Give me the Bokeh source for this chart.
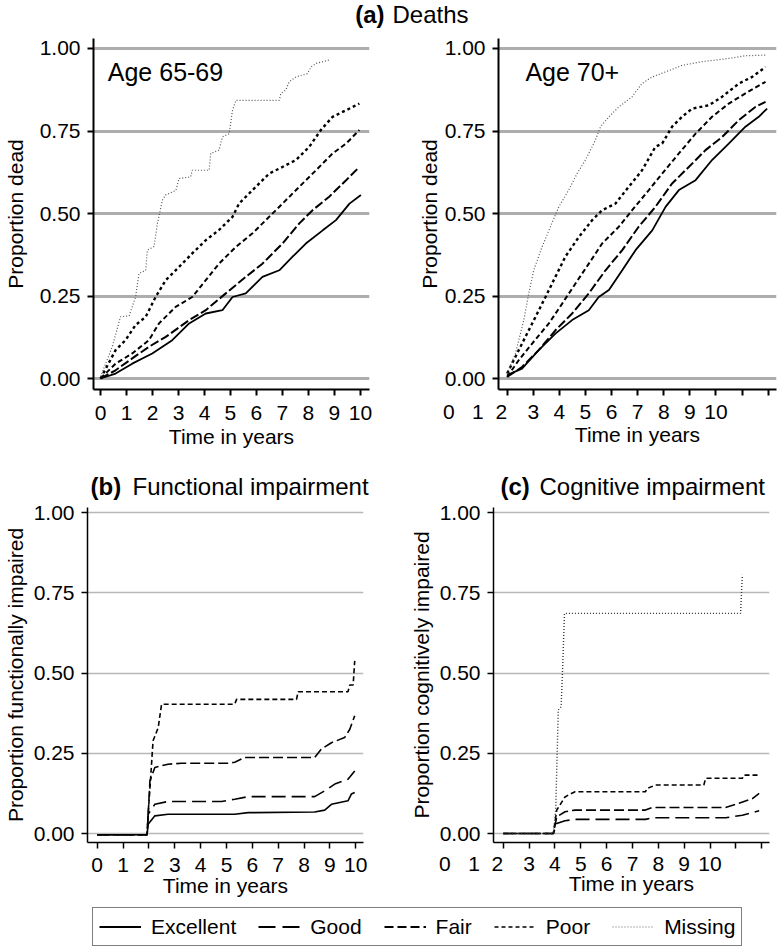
from bokeh.plotting import figure
from bokeh.layouts import column, row
from bokeh.models import FixedTicker, Legend, LegendItem, Range1d
from bokeh.core.properties import value
from bokeh.embed import file_html
from bokeh.resources import INLINE

FONT = "Liberation Sans"

# ---------------- data ----------------
categories = ["Excellent", "Good", "Fair", "Poor", "Missing"]
x_ticks = [0, 1, 2, 3, 4, 5, 6, 7, 8, 9, 10]
x_tick_labels = ["0", "1", "2", "3", "4", "5", "6", "7", "8", "9", "10"]
y_ticks = [0.0, 0.25, 0.5, 0.75, 1.0]
y_tick_labels = ["0.00", "0.25", "0.50", "0.75", "1.00"]

# (a) Deaths, Age 65-69
a1_excellent_t = [0, 0.58, 1.22, 1.99, 2.76, 3.41, 4.05, 4.69, 5.08, 5.59, 6.23, 6.88, 7.39, 7.9, 8.55, 9.06, 9.58, 10.02]
a1_excellent_v = [0, 0.015, 0.045, 0.076, 0.116, 0.167, 0.197, 0.207, 0.247, 0.258, 0.308, 0.328, 0.369, 0.409, 0.449, 0.48, 0.53, 0.556]
a1_good_t = [0, 0.58, 1.22, 1.86, 2.51, 3.41, 4.05, 4.82, 5.59, 6.23, 7.0, 7.65, 8.16, 8.8, 9.45, 9.96]
a1_good_v = [0, 0.025, 0.061, 0.096, 0.126, 0.177, 0.207, 0.258, 0.308, 0.348, 0.409, 0.47, 0.51, 0.551, 0.601, 0.641]
a1_fair_t = [0, 0.58, 1.22, 1.86, 2.25, 2.89, 3.53, 4.05, 4.56, 5.21, 5.85, 6.49, 7.13, 7.65, 8.29, 8.93, 9.45, 9.96]
a1_fair_v = [0, 0.045, 0.076, 0.116, 0.167, 0.217, 0.247, 0.298, 0.348, 0.399, 0.44, 0.49, 0.54, 0.581, 0.631, 0.682, 0.712, 0.753]
a1_poor_t = [0, 0.58, 0.96, 1.35, 1.74, 2.12, 2.51, 3.02, 3.53, 4.05, 4.56, 5.08, 5.33, 5.85, 6.49, 7.0, 7.52, 8.03, 8.48, 8.93, 9.45, 9.96]
a1_poor_v = [0, 0.086, 0.116, 0.162, 0.187, 0.247, 0.298, 0.338, 0.379, 0.419, 0.45, 0.49, 0.53, 0.571, 0.621, 0.641, 0.662, 0.702, 0.753, 0.793, 0.813, 0.833]
a1_missing_t = [0, 0.45, 0.77, 1.1, 1.35, 1.48, 1.74, 1.8, 2.06, 2.19, 2.38, 2.5, 2.9, 3.02, 3.47, 3.53, 4.18, 4.24, 4.56, 4.69, 4.95, 5.08, 5.21, 6.88, 6.94, 7.13, 7.26, 7.52, 7.97, 8.1, 8.29, 8.8]
a1_missing_v = [0.005, 0.096, 0.187, 0.19, 0.247, 0.318, 0.328, 0.389, 0.40, 0.47, 0.54, 0.556, 0.57, 0.606, 0.611, 0.631, 0.631, 0.682, 0.692, 0.732, 0.742, 0.813, 0.843, 0.843, 0.864, 0.874, 0.899, 0.914, 0.924, 0.944, 0.955, 0.965]

# (a) Deaths, Age 70+
a2_excellent_t = [0, 0.57, 1.21, 1.85, 2.49, 3.13, 3.51, 3.9, 4.41, 4.92, 5.56, 6.07, 6.58, 7.22, 7.85, 8.49, 9.13, 9.64, 9.96]
a2_excellent_v = [0.01, 0.03, 0.086, 0.136, 0.177, 0.207, 0.247, 0.268, 0.328, 0.389, 0.449, 0.52, 0.571, 0.601, 0.662, 0.712, 0.763, 0.793, 0.818]
a2_good_t = [0, 0.57, 1.21, 1.85, 2.49, 3.13, 3.77, 4.41, 5.04, 5.68, 6.32, 6.96, 7.6, 8.24, 8.88, 9.51, 9.9]
a2_good_v = [0.005, 0.035, 0.086, 0.146, 0.197, 0.258, 0.328, 0.389, 0.46, 0.52, 0.591, 0.641, 0.692, 0.732, 0.783, 0.823, 0.838]
a2_fair_t = [0, 0.45, 0.96, 1.6, 2.11, 2.62, 3.13, 3.64, 4.28, 4.79, 5.43, 5.94, 6.58, 7.22, 7.85, 8.49, 9.13, 9.9]
a2_fair_v = [0.005, 0.056, 0.106, 0.167, 0.227, 0.288, 0.348, 0.409, 0.46, 0.51, 0.571, 0.621, 0.682, 0.742, 0.793, 0.833, 0.864, 0.899]
a2_poor_t = [0, 0.32, 0.7, 1.09, 1.47, 1.85, 2.23, 2.75, 3.26, 3.64, 4.15, 4.66, 5.17, 5.68, 5.94, 6.32, 6.7, 7.09, 7.73, 8.24, 8.88, 9.39, 9.9]
a2_poor_v = [0.015, 0.066, 0.126, 0.187, 0.247, 0.308, 0.369, 0.429, 0.48, 0.51, 0.53, 0.581, 0.631, 0.702, 0.712, 0.763, 0.793, 0.818, 0.828, 0.854, 0.894, 0.914, 0.944]
a2_missing_t = [0, 0.32, 0.64, 0.83, 1.02, 1.34, 1.66, 1.98, 2.36, 2.68, 3.0, 3.38, 3.58, 3.9, 4.28, 4.79, 5.17, 5.56, 6.07, 6.7, 7.47, 8.49, 9.13, 9.9]
a2_missing_v = [0.015, 0.076, 0.177, 0.258, 0.328, 0.399, 0.46, 0.52, 0.571, 0.621, 0.662, 0.722, 0.763, 0.793, 0.823, 0.854, 0.894, 0.914, 0.929, 0.949, 0.96, 0.97, 0.978, 0.98]

# (b) Functional impairment
b_excellent_t = [0, 1.93, 1.97, 2.23, 2.74, 5.32, 5.84, 8.41, 8.8, 9.06, 9.7, 9.83, 9.96]
b_excellent_v = [-0.004, -0.004, 0.029, 0.055, 0.06, 0.06, 0.065, 0.067, 0.073, 0.091, 0.102, 0.123, 0.128]
b_good_t = [0, 1.93, 1.97, 2.23, 2.74, 4.81, 5.32, 5.84, 8.41, 8.8, 9.19, 9.7, 9.96]
b_good_v = [-0.004, -0.004, 0.06, 0.091, 0.1, 0.1, 0.107, 0.115, 0.115, 0.133, 0.154, 0.169, 0.195]
b_fair_t = [0, 1.93, 2.04, 2.23, 2.74, 3.26, 5.06, 5.32, 5.71, 8.41, 8.67, 9.06, 9.57, 9.77, 9.96]
b_fair_v = [-0.004, -0.004, 0.164, 0.206, 0.216, 0.219, 0.219, 0.222, 0.237, 0.237, 0.263, 0.283, 0.299, 0.325, 0.367]
b_poor_t = [0, 1.93, 1.97, 2.06, 2.16, 2.36, 2.49, 5.32, 5.39, 7.71, 7.77, 9.7, 9.77, 9.9, 9.96]
b_poor_v = [-0.004, -0.004, 0.06, 0.164, 0.289, 0.33, 0.403, 0.403, 0.418, 0.418, 0.442, 0.442, 0.463, 0.463, 0.538]

# (c) Cognitive impairment
c_good_t = [0, 1.94, 2.07, 2.39, 2.78, 5.5, 5.76, 8.6, 9.25, 9.9]
c_good_v = [0, 0, 0.031, 0.04, 0.044, 0.044, 0.049, 0.049, 0.057, 0.071]
c_fair_t = [0, 1.94, 2.07, 2.39, 2.78, 5.5, 5.76, 8.6, 9.12, 9.64, 9.9]
c_fair_v = [0, 0, 0.052, 0.068, 0.073, 0.073, 0.081, 0.081, 0.094, 0.109, 0.125]
c_poor_t = [0, 1.94, 2.07, 2.39, 2.52, 2.78, 5.5, 5.56, 5.89, 7.76, 7.83, 9.25, 9.31, 9.9]
c_poor_v = [0, 0, 0.073, 0.114, 0.12, 0.13, 0.13, 0.14, 0.151, 0.151, 0.172, 0.172, 0.182, 0.182]
c_missing_t = [0, 1.94, 2.03, 2.13, 2.24, 2.29, 2.37, 9.18, 9.25]
c_missing_v = [0, 0, 0.073, 0.385, 0.395, 0.499, 0.686, 0.686, 0.806]

# ---------------- styles ----------------
TOP_STYLE = {
    "Excellent": dict(line_dash="solid", line_width=1.8, line_color="black"),
    "Good": dict(line_dash="9 3", line_width=2.0, line_color="black"),
    "Fair": dict(line_dash="5 3", line_width=2.0, line_color="black"),
    "Poor": dict(line_dash="3 3", line_width=2.4, line_color="black"),
    "Missing": dict(line_dash="1 2", line_width=1.2, line_color="#555555"),
}
BOT_STYLE = {
    "Excellent": dict(line_dash="solid", line_width=1.6, line_color="black"),
    "Good": dict(line_dash="14 6", line_width=1.6, line_color="black"),
    "Fair": dict(line_dash="10 4", line_width=1.6, line_color="black"),
    "Poor": dict(line_dash="5 3", line_width=1.6, line_color="black"),
    "Missing": dict(line_dash="1 2", line_width=1.4, line_color="#333333"),
}
LEG_STYLE = {
    "Excellent": dict(line_dash="solid", line_width=1.8, line_color="black"),
    "Good": dict(line_dash="17 7", line_width=1.8, line_color="black"),
    "Fair": dict(line_dash="9 4", line_width=1.8, line_color="black"),
    "Poor": dict(line_dash="4 3", line_width=1.6, line_color="black"),
    "Missing": dict(line_dash="1 2", line_width=1.2, line_color="#666666"),
}

TOTAL_W = 782
TICK_FS = "21px"
NB = "\u00a0"


def make_panel(xr, yr, fw, fh, bl, br, bt, bb, ylabel, ylab_standoff, grid_w, grid_c, axis_w,
               lab_standoff, title_standoff, x_overrides=None):
    p = figure(frame_width=fw, frame_height=fh,
               x_range=Range1d(*xr), y_range=Range1d(*yr),
               min_border_left=bl, min_border_right=br,
               min_border_top=bt, min_border_bottom=bb,
               output_backend="svg", toolbar_location=None)
    p.outline_line_color = None
    p.background_fill_color = "white"
    p.border_fill_color = "white"
    p.xgrid.visible = False
    p.ygrid.ticker = FixedTicker(ticks=y_ticks)
    p.ygrid.grid_line_color = grid_c
    p.ygrid.grid_line_width = grid_w
    p.xaxis.ticker = FixedTicker(ticks=x_ticks)
    p.yaxis.ticker = FixedTicker(ticks=y_ticks)
    if x_overrides is None:
        p.xaxis.major_label_overrides = dict(zip(x_ticks, x_tick_labels))
    else:
        p.xaxis.major_label_overrides = x_overrides
    p.yaxis.major_label_overrides = dict(zip(y_ticks, y_tick_labels))
    for ax in (p.xaxis[0], p.yaxis[0]):
        ax.axis_line_width = axis_w
        ax.axis_line_color = "black"
        ax.major_tick_line_width = axis_w
        ax.major_tick_line_color = "black"
        ax.major_tick_in = 0
        ax.major_tick_out = 6
        ax.minor_tick_line_color = None
        ax.major_label_text_font = FONT
        ax.major_label_text_font_size = TICK_FS
        ax.major_label_text_color = "black"
        ax.axis_label_text_font = FONT
        ax.axis_label_text_font_size = "21px"
        ax.axis_label_text_font_style = "normal"
        ax.axis_label_text_color = "black"
    p.xaxis.major_label_standoff = lab_standoff
    p.yaxis.major_label_standoff = 7
    p.xaxis.axis_label = "Time in years"
    p.xaxis.axis_label_standoff = title_standoff
    p.yaxis.axis_label = ylabel
    p.yaxis.axis_label_standoff = ylab_standoff
    return p


# right-hand panels: the printed labels run two ticks behind the tick marks,
# so "0" and "1" sit left of the axis; they are folded into the first label.
shift_overrides = {}
for i, t in enumerate(x_ticks):
    shift_overrides[t] = x_tick_labels[i + 2] if i + 2 < len(x_tick_labels) else ""
shift_overrides[x_ticks[0]] = (x_tick_labels[0] + NB * 3 + x_tick_labels[1] + NB * 2 +
                               x_tick_labels[2] + NB * 11)

# ---------------- title strip ----------------
pt = figure(frame_width=TOTAL_W, frame_height=30, x_range=Range1d(0, TOTAL_W), y_range=Range1d(0, 30),
            min_border=0, output_backend="svg", toolbar_location=None)
pt.axis.visible = False
pt.grid.visible = False
pt.outline_line_color = None
pt.text(x=[384], y=[16], text=["(a)"], text_font=value(FONT), text_font_size="24px",
        text_font_style="bold", text_align="right", text_baseline="alphabetic")
pt.text(x=[392], y=[16], text=["Deaths"], text_font=value(FONT), text_font_size="24px",
        text_align="left", text_baseline="alphabetic")

# ---------------- top row ----------------
yr_top = (-0.0333, 1.0303)
p1 = make_panel((-0.27, 10.35), yr_top, 276, 351, 88, 15, 8, 81, "Proportion dead", 10,
                3, "#adadad", 2, 10, 2)
p2 = make_panel((-0.33, 10.32), yr_top, 278, 351, 114, 11, 8, 81, "Proportion dead", 1,
                3, "#adadad", 2, 4, -3, x_overrides=shift_overrides)

for p, series in ((p1, [(a1_excellent_t, a1_excellent_v, "Excellent"), (a1_good_t, a1_good_v, "Good"),
                        (a1_fair_t, a1_fair_v, "Fair"), (a1_poor_t, a1_poor_v, "Poor"),
                        (a1_missing_t, a1_missing_v, "Missing")]),
                  (p2, [(a2_excellent_t, a2_excellent_v, "Excellent"), (a2_good_t, a2_good_v, "Good"),
                        (a2_fair_t, a2_fair_v, "Fair"), (a2_poor_t, a2_poor_v, "Poor"),
                        (a2_missing_t, a2_missing_v, "Missing")])):
    for t, v, cat in series:
        p.line(t, v, **TOP_STYLE[cat])

p1.text(x=[0.28], y=[0.928], text=["Age 65-69"], text_font=value(FONT), text_font_size="25px",
        text_baseline="alphabetic")
p2.text(x=[0.70], y=[0.928], text=["Age 70+"], text_font=value(FONT), text_font_size="25px",
        text_baseline="alphabetic")

# ---------------- panel-title strip for (b) and (c) ----------------
ps = figure(frame_width=TOTAL_W, frame_height=30, x_range=Range1d(0, TOTAL_W), y_range=Range1d(0, 30),
            min_border=0, output_backend="svg", toolbar_location=None)
ps.axis.visible = False
ps.grid.visible = False
ps.outline_line_color = None
ps.text(x=[90, 500], y=[14, 14], text=["(b)", "(c)"], text_font=value(FONT), text_font_size="24px",
        text_font_style="bold", text_baseline="alphabetic")
ps.text(x=[132, 539], y=[14, 14], text=["Functional impairment", "Cognitive impairment"],
        text_font=value(FONT), text_font_size="24px", text_baseline="alphabetic")

# ---------------- bottom row ----------------
yr_bot = (-0.028, 1.016)
p3 = make_panel((-0.375, 10.3), yr_bot, 276, 335, 86, 17, 7, 58,
                "Proportion functionally impaired", 4, 1.5, "#b8b8b8", 1.5, 9, -1)
p4 = make_panel((-0.376, 10.3), yr_bot, 276, 335, 113, 14, 7, 58,
                "Proportion cognitively impaired", 4, 1.5, "#b8b8b8", 1.5, 3, -6,
                x_overrides=shift_overrides)

for t, v, cat in [(b_excellent_t, b_excellent_v, "Excellent"), (b_good_t, b_good_v, "Good"),
                  (b_fair_t, b_fair_v, "Fair"), (b_poor_t, b_poor_v, "Poor")]:
    p3.line(t, v, **BOT_STYLE[cat])
for t, v, cat in [(c_good_t, c_good_v, "Good"), (c_fair_t, c_fair_v, "Fair"),
                  (c_poor_t, c_poor_v, "Poor"), (c_missing_t, c_missing_v, "Missing")]:
    p4.line(t, v, **BOT_STYLE[cat])

# ---------------- legend ----------------
pl = figure(frame_width=TOTAL_W, frame_height=47, x_range=Range1d(0, 1), y_range=Range1d(0, 1),
            min_border=0, output_backend="svg", toolbar_location=None)
pl.axis.visible = False
pl.grid.visible = False
pl.outline_line_color = None
items = []
for cat in categories:
    # the key renderers carry one off-frame segment so that their key strokes are drawn
    r = pl.line([5, 6], [5, 5], **LEG_STYLE[cat])
    items.append(LegendItem(label=cat, renderers=[r]))
leg = Legend(items=items, orientation="horizontal", location=(92, 1),
             label_text_font=FONT, label_text_font_size="21px", label_text_color="black",
             glyph_width=42, glyph_height=25, label_standoff=10, spacing=22, padding=6,
             margin=0, border_line_color="black", border_line_width=1.5,
             background_fill_alpha=1.0)
pl.add_layout(leg)

layout = column(pt, row(p1, p2), ps, row(p3, p4), pl)
open("out.html", "w").write(file_html(layout, INLINE))
